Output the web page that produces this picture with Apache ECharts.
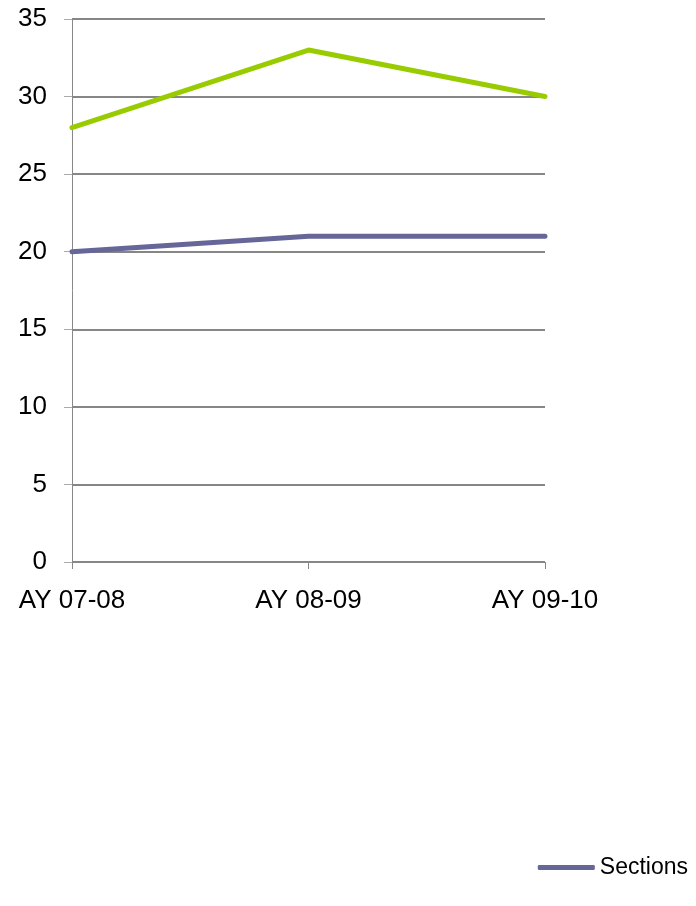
<!DOCTYPE html>
<html><head><meta charset="utf-8">
<script src="https://cdn.jsdelivr.net/npm/echarts@6/dist/echarts.min.js"></script>
<style>html,body{margin:0;padding:0;background:#fff}#c{width:696px;height:906px}</style>
</head><body><div id="c"></div>
<script>
const categories = ['AY 07-08', 'AY 08-09', 'AY 09-10'];
const sectionsValues = [20, 21, 21];
const otherValues = [28, 33, 30];
const yTicks = { min: 0, max: 35, interval: 5 };

const chart = echarts.init(document.getElementById('c'));
chart.setOption({
  animation: false,
  backgroundColor: '#fff',
  grid: { left: 72, right: 151, top: 19, bottom: 344 },
  legend: {
    data: ['Sections'], right: 3, top: 851, itemWidth: 57, itemHeight: 5, itemGap: 3,
    icon: 'roundRect',
    textStyle: { fontFamily: 'Liberation Sans, Arial', fontSize: 23, color: '#000' }
  },
  xAxis: {
    type: 'category', data: categories, boundaryGap: false,
    axisLine: { lineStyle: { color: '#888', width: 1 } },
    axisTick: { show: true, length: 7, lineStyle: { color: '#888' }, alignWithLabel: true },
    axisLabel: { fontFamily: 'Liberation Sans, Arial', fontSize: 26, color: '#000', margin: 26 },
    splitLine: { show: false }
  },
  yAxis: {
    type: 'value', min: yTicks.min, max: yTicks.max, interval: yTicks.interval,
    axisLine: { show: true, lineStyle: { color: '#888', width: 1 } },
    axisTick: { show: true, length: 8, lineStyle: { color: '#aaa' } },
    axisLabel: { fontFamily: 'Liberation Sans, Arial', fontSize: 26, color: '#000', margin: 25 },
    splitLine: { lineStyle: { color: '#868686', width: 2 } }
  },
  series: [
    { name: 'Series', type: 'line', data: otherValues, symbol: 'none',
      lineStyle: { color: '#99cc00', width: 5, cap: 'round' }, itemStyle: { color: '#99cc00' } },
    { name: 'Sections', type: 'line', data: sectionsValues, symbol: 'none',
      lineStyle: { color: '#666699', width: 5, cap: 'round' }, itemStyle: { color: '#666699' } }
  ]
});
</script></body></html>
